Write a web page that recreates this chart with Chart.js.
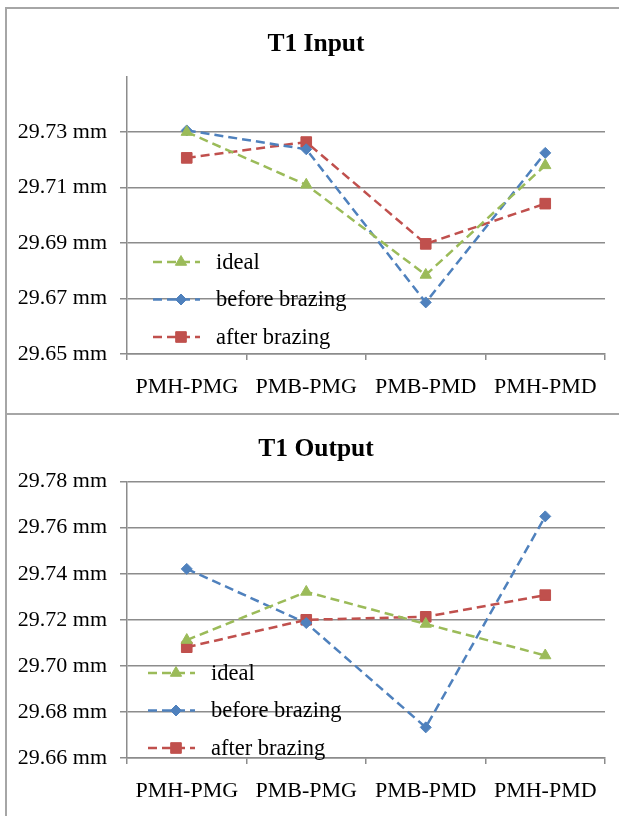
<!DOCTYPE html>
<html>
<head>
<meta charset="utf-8">
<script src="https://cdn.jsdelivr.net/npm/chart.js@4/dist/chart.umd.min.js"></script>
<style>
  html, body { margin: 0; padding: 0; background: #fff; overflow: hidden; }
  body { width: 619px; height: 816px; position: relative; }
  canvas { position: absolute; left: 7px; }
  #chartInput { top: 9px; }
  #chartOutput { top: 415px; }
  .rule { position: absolute; background: #a6a6a6; z-index: 2; }
</style>
</head>
<body>
<canvas id="chartInput" width="612" height="404"></canvas>
<canvas id="chartOutput" width="612" height="401"></canvas>
<div class="rule" style="left:5px; top:7px; width:614px; height:2px;"></div>
<div class="rule" style="left:5px; top:413px; width:614px; height:2px;"></div>
<div class="rule" style="left:5px; top:7px; width:2px; height:809px;"></div>
<script>
const categories = ["PMH-PMG", "PMB-PMG", "PMB-PMD", "PMH-PMD"];
const seriesNames = ["ideal", "before brazing", "after brazing"];

const inputIdeal = [29.730, 29.711, 29.6785, 29.718];
const inputBefore = [29.7306, 29.7238, 29.6686, 29.7225];
const inputAfter = [29.7207, 29.7264, 29.6897, 29.7042];

const outputIdeal = [29.7112, 29.7321, 29.7182, 29.7045];
const outputBefore = [29.7421, 29.7186, 29.6733, 29.7649];
const outputAfter = [29.7081, 29.72, 29.7213, 29.7307];

const GREEN = "#9bbb59";
const BLUE = "#4f81bd";
const RED = "#c0504d";
const GRID = "#8c8c8c";
const FONT = "'Liberation Serif', 'Times New Roman', serif";

// legend drawn inside the plot area, lower left
const insideLegend = {
  id: "insideLegend",
  afterDraw(chart, args, opts) {
    const ctx = chart.ctx;
    const area = chart.chartArea;
    chart.data.datasets.forEach((ds, i) => {
      const y = area.bottom + opts.y + i * opts.gap;
      const x0 = area.left + opts.x;
      ctx.save();
      ctx.strokeStyle = ds.borderColor;
      ctx.lineWidth = ds.borderWidth;
      ctx.setLineDash(ds.borderDash);
      ctx.beginPath();
      ctx.moveTo(x0, y);
      ctx.lineTo(x0 + 47, y);
      ctx.stroke();
      ctx.setLineDash([]);
      ctx.fillStyle = ds.pointBackgroundColor;
      ctx.strokeStyle = ds.pointBackgroundColor;
      ctx.lineWidth = 1;
      Chart.helpers.drawPoint(ctx, { pointStyle: ds.pointStyle, radius: ds.pointRadius, rotation: 0, borderWidth: 1 }, x0 + 28, y);
      ctx.fillStyle = "#000";
      ctx.font = "22.5px " + FONT;
      ctx.textBaseline = "middle";
      ctx.textAlign = "left";
      ctx.fillText(ds.label, x0 + 63, y + 1);
      ctx.restore();
    });
  },
};

const makeDataset = (label, data, color, pointStyle, radius) => ({
  label,
  data,
  borderColor: color,
  backgroundColor: color,
  pointBackgroundColor: color,
  pointBorderColor: color,
  pointStyle,
  pointRadius: radius,
  pointBorderWidth: 1,
  borderWidth: 2.5,
  borderDash: [9, 5],
  tension: 0,
  fill: false,
});

const makeChart = (canvasId, title, ideal, before, after, yMin, yMax, hideTop, legendPos) => {
  const fmt = (v) => Number(v).toFixed(2) + " mm";
  const isHidden = (v) => hideTop && v > yMax - 0.001;
  new Chart(document.getElementById(canvasId), {
    type: "line",
    data: {
      labels: categories,
      datasets: [
        makeDataset(seriesNames[0], ideal, GREEN, "triangle", 6.5),
        makeDataset(seriesNames[1], before, BLUE, "rectRot", 5.5),
        makeDataset(seriesNames[2], after, RED, "rect", 7.5),
      ],
    },
    options: {
      responsive: false,
      animation: false,
      events: [],
      layout: { padding: { left: 6, right: 0, top: 0, bottom: 0 } },
      plugins: {
        legend: { display: false },
        tooltip: { enabled: false },
        title: {
          display: true,
          text: title,
          color: "#000",
          font: { family: FONT, size: 25.5, weight: "bold", lineHeight: 1.2 },
          padding: { top: legendPos.titleTop, bottom: 17 },
        },
        insideLegend: legendPos,
      },
      scales: {
        x: {
          offset: true,
          afterFit: (scale) => { scale.height = legendPos.xHeight; },
          grid: {
            offset: true,
            drawOnChartArea: false,
            drawTicks: true,
            tickLength: 6,
            color: GRID,
            lineWidth: 1.5,
          },
          border: { display: true, color: GRID, width: 1.5 },
          ticks: {
            color: "#000",
            padding: 14,
            maxRotation: 0,
            font: { family: FONT, size: 22 },
          },
        },
        y: {
          min: yMin,
          max: yMax,
          afterFit: (scale) => { scale.width = 114; },
          grid: {
            color: (c) => (isHidden(c.tick.value) ? "rgba(0,0,0,0)" : GRID),
            tickColor: (c) => (isHidden(c.tick.value) ? "rgba(0,0,0,0)" : GRID),
            lineWidth: 1.5,
            tickLength: 7,
          },
          border: { display: true, color: GRID, width: 1.5 },
          ticks: {
            stepSize: 0.02,
            color: "#000",
            padding: 13,
            font: { family: FONT, size: 22 },
            callback: (v) => (isHidden(v) ? "" : fmt(v)),
          },
        },
        // empty right-hand strip so the plot stops at the same place as the original
        yPad: {
          position: "right",
          afterFit: (scale) => { scale.width = 14; },
          grid: { display: false },
          border: { display: false },
          ticks: { display: false },
        },
      },
    },
    plugins: [insideLegend],
  });
};

makeChart("chartInput", "T1 Input", inputIdeal, inputBefore, inputAfter, 29.65, 29.75, true,
  { x: 26, y: -92, gap: 37.5, titleTop: 20, xHeight: 59 });
makeChart("chartOutput", "T1 Output", outputIdeal, outputBefore, outputAfter, 29.66, 29.78, false,
  { x: 21, y: -85, gap: 37.5, titleTop: 19, xHeight: 58 });
</script>
</body>
</html>
